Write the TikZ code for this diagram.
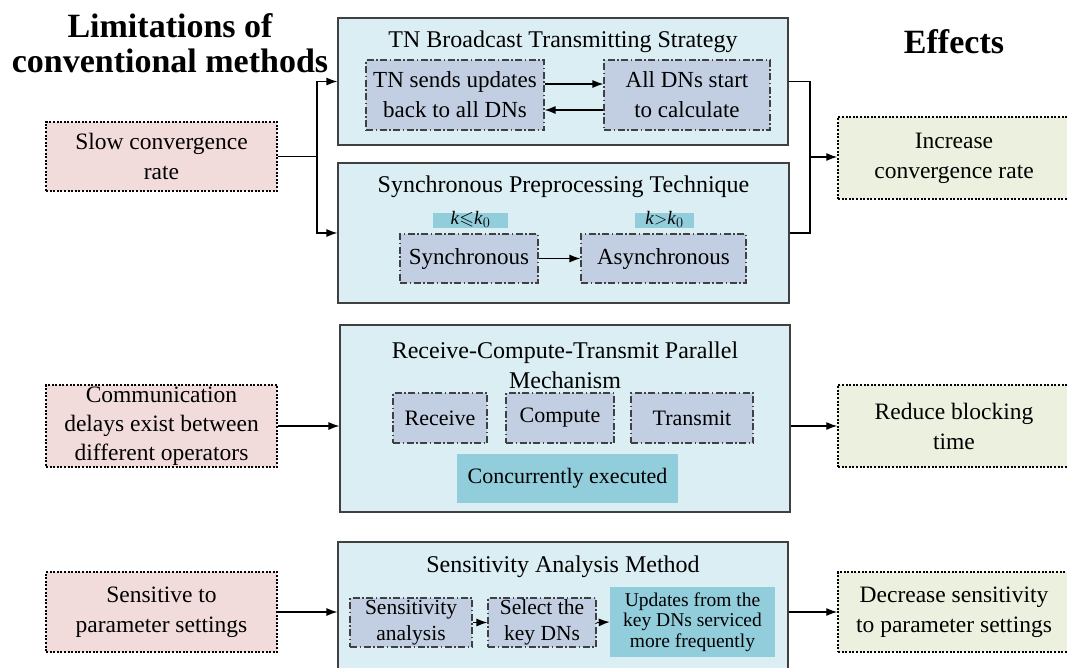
\documentclass[tikz,border=0pt]{standalone}
\usepackage{amssymb}
\usepackage{fontspec}
\setmainfont{Liberation Serif}
\usetikzlibrary{arrows.meta}
\definecolor{bigfill}{HTML}{DAEEF3}
\definecolor{innerfill}{HTML}{C2CFE2}
\definecolor{tealfill}{HTML}{92CDDC}
\definecolor{pinkfill}{HTML}{F2DCDB}
\definecolor{greenfill}{HTML}{EBF1DE}
\definecolor{bordergray}{HTML}{404040}
\tikzset{
  bigbox/.style={draw=bordergray, line width=1.1pt, fill=bigfill, inner sep=0pt},
  innerbox/.style={draw=bordergray, line width=1.1pt, fill=innerfill, inner sep=0pt,
     dash pattern=on 7pt off 2.5pt on 1.5pt off 2.5pt, align=center,
     font=\fontsize{22}{28}\selectfont},
  tealbox/.style={fill=tealfill, inner sep=0pt, align=center},
  causebox/.style={draw=black, line width=1.4pt, fill=pinkfill, inner sep=0pt,
     dash pattern=on 2pt off 1.6pt, align=center, font=\fontsize{23.5}{30}\selectfont},
  effectbox/.style={draw=black, line width=1.4pt, fill=greenfill, inner sep=0pt,
     dash pattern=on 2pt off 1.6pt, align=center, font=\fontsize{23.5}{30}\selectfont},
  boxtitle/.style={inner sep=0pt, align=center, font=\fontsize{24}{30}\selectfont},
  headtitle/.style={inner sep=0pt, align=center, font=\fontsize{34}{35}\selectfont\bfseries},
  arr/.style={-{Latex[length=11pt,width=8pt]}, line width=1.3pt},
  conn/.style={line width=1.3pt}
}
\begin{document}
\begin{tikzpicture}[x=1pt,y=-1pt]
\useasboundingbox (0,0) rectangle (1067,667);
\fill[white] (0,0) rectangle (1067,667);

% headings
\node[headtitle] (h1) at (170,43) {Limitations of\\conventional methods};
\node[headtitle] (h2) at (954,42) {Effects};

% ---------- Box 1: TN Broadcast ----------
\node[bigbox, minimum width=450, minimum height=127] (B1) at (563,81.5) {};
\node[boxtitle] (t1) at (563,42) {TN Broadcast Transmitting Strategy};
\node[innerbox, minimum width=178, minimum height=70, font=\fontsize{23}{30}\selectfont] (TNs) at (455,95) {TN sends updates\\back to all DNs};
\node[innerbox, minimum width=166, minimum height=70, font=\fontsize{23}{30}\selectfont] (DNs) at (687,95) {All DNs start\\to calculate};
\draw[arr] ([yshift=11pt]TNs.east) -- ([yshift=11pt]DNs.west);
\draw[arr] ([yshift=-15pt]DNs.west) -- ([yshift=-15pt]TNs.east);

% ---------- Box 2: Synchronous Preprocessing ----------
\node[bigbox, minimum width=451, minimum height=140] (B2) at (563.5,233) {};
\node[boxtitle] (t2) at (563.5,187) {Synchronous Preprocessing Technique};
\node[tealbox, minimum width=75, minimum height=15] (k1) at (470.5,220.5) {};
\node[inner sep=0pt, font=\fontsize{19}{19}\selectfont] (k1t) at (470.5,219.5) {\textit{k}$\leqslant$\textit{k}$_0$};
\node[tealbox, minimum width=59, minimum height=15] (k2) at (664.5,220.5) {};
\node[inner sep=0pt, font=\fontsize{19}{19}\selectfont] (k2t) at (664.5,219.5) {\textit{k}$>$\textit{k}$_0$};
\node[innerbox, minimum width=138, minimum height=49, font=\fontsize{23}{30}\selectfont] (Syn) at (469,258.5) {Synchronous};
\node[innerbox, minimum width=165, minimum height=49, font=\fontsize{23}{30}\selectfont] (Asy) at (663.5,258.5) {Asynchronous};
\draw[arr] (Syn.east) -- (Asy.west);

% ---------- cause / effect 1 ----------
\node[causebox, minimum width=231, minimum height=69] (S1) at (161.5,156.5) {Slow convergence\\rate};
\node[effectbox, minimum width=232, minimum height=82] (E1) at (954,158) {Increase\\convergence rate};
\coordinate (j1) at (317,156.5);
\coordinate (j2) at (810,157);
\draw[conn] (S1.east) -- (j1);
\draw[arr] (j1) |- (B1.west);
\draw[arr] (j1) |- (B2.west);
\draw[conn] (B1.east) -| (j2);
\draw[conn] (B2.east) -| (j2);
\draw[arr] (j2) -- (j2 -| E1.west);

% ---------- Box 3: RCT ----------
\node[bigbox, minimum width=450, minimum height=187] (B3) at (565,418.5) {};
\node[boxtitle, font=\fontsize{24}{30}\selectfont] (t3) at (565,365) {Receive-Compute-Transmit Parallel\\Mechanism};
\node[innerbox, minimum width=94, minimum height=50] (Rec) at (440,418) {Receive};
\node[innerbox, minimum width=108, minimum height=50] (Com) at (560,418) {Compute};
\node[innerbox, minimum width=122, minimum height=50] (Tra) at (692,418) {Transmit};
\node[tealbox, minimum width=221, minimum height=49, font=\fontsize{22}{28}\selectfont] (Con) at (567.5,478.5) {Concurrently executed};

\node[causebox, minimum width=231, minimum height=82, font=\fontsize{23.5}{29}\selectfont] (S2) at (161.5,426) {Communication\\delays exist between\\different operators};
\node[effectbox, minimum width=232, minimum height=82] (E2) at (954,426) {Reduce blocking\\time};
\draw[arr] (S2.east) -- (S2.east -| B3.west);
\draw[arr] (B3.east |- E2.west) -- (E2.west);

% ---------- Box 4: Sensitivity ----------
\node[bigbox, minimum width=450, minimum height=134] (B4) at (563,609) {};
\node[boxtitle] (t4) at (563,567) {Sensitivity Analysis Method};
\node[innerbox, minimum width=122, minimum height=49, font=\fontsize{21.5}{26}\selectfont] (Sen) at (411,622.5) {Sensitivity\\analysis};
\node[innerbox, minimum width=108, minimum height=49, font=\fontsize{21.5}{26}\selectfont] (Sel) at (542,622.5) {Select the\\key DNs};
\node[tealbox, minimum width=165, minimum height=70, font=\fontsize{19.5}{20.5}\selectfont] (Upd) at (692.5,622) {Updates from the\\key DNs serviced\\more frequently};
\draw[arr] (Sen.east) -- (Sel.west);
\draw[arr] (Sel.east) -- (Upd.west);

\node[causebox, minimum width=231, minimum height=80] (S3) at (161.5,612) {Sensitive to\\parameter settings};
\node[effectbox, minimum width=232, minimum height=80] (E3) at (954,612) {Decrease sensitivity\\to parameter settings};
\draw[arr] (S3.east) -- (S3.east -| B4.west);
\draw[arr] (B4.east |- E3.west) -- (E3.west);
\end{tikzpicture}
\end{document}
